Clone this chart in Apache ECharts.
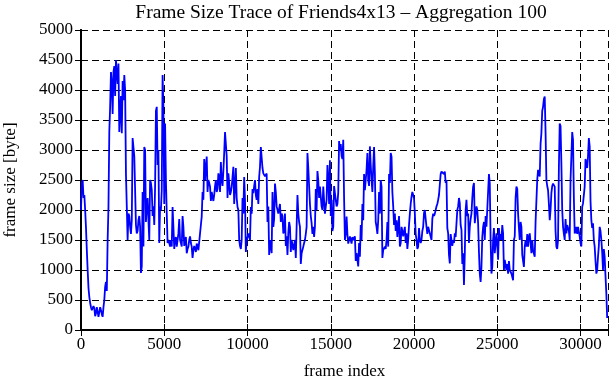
<!DOCTYPE html>
<html>
<head>
<meta charset="utf-8">
<script src="https://cdn.jsdelivr.net/npm/echarts@6/dist/echarts.min.js"></script>
<style>
  html, body { margin: 0; padding: 0; background: #fff; }
  #chart { width: 611px; height: 380px; }
</style>
</head>
<body>
<div id="chart"></div>
<script>
// frame size every 50 frames (trace is the 100-frame aggregate)
var STEP = 50
var sizes = [
  2000,2450,2500,2200,2250,2000,1700,1330,1000,700,550,450,380,330,300,400,360,230,280,380,
  350,220,250,380,330,260,220,380,500,720,800,650,1500,2050,3300,3720,4300,4110,3600,4300,
  4400,3900,4500,4280,4100,4440,3300,3610,3900,3280,4150,3830,4250,4000,2600,2060,1500,1940,1900,1720,
  1600,1830,3200,3170,2900,2330,1750,1610,1650,1830,1900,1720,950,1060,2300,1390,3050,3000,1800,2060,
  2200,1830,1500,2500,2450,2330,1900,2060,1750,2390,3650,3720,2750,3000,1450,2060,2000,2330,4250,3720,
  2100,3440,2500,1940,1450,1500,1450,1390,1500,1390,2050,1720,1350,1500,1550,1390,1400,1610,1850,1500,
  1450,1390,1900,1720,1400,1500,1550,1280,1350,1390,1500,1560,1450,1390,1200,1330,1400,1390,1300,1440,
  1400,1330,1350,1610,1750,1890,2300,2170,2850,2500,2700,2890,2300,2500,2450,2390,2150,2300,
  2300,2150,2250,2400,2500,2300,2350,2610,2550,2300,2800,2500,2400,2650,2950,3300,3300,2900,2200,2610,
  2450,2250,2300,2390,2550,2720,2100,2400,2700,2200,2050,2000,1500,1400,1350,1500,2200,1940,2550,2170,
  1300,1500,1550,1610,1600,1500,2050,1940,2350,2280,2400,2500,2250,2170,2350,2100,2550,2720,3050,3080,
  2700,2610,2600,2560,2550,2610,1800,2060,1250,1500,1400,1280,2300,1720,1850,2440,2300,2060,2050,1940,
  1950,2100,1800,1940,1900,1610,1650,1940,1400,1560,1250,1610,1800,1720,1300,1500,1500,1330,1350,1500,
  1200,1220,2250,1940,1800,1720,1100,1280,1300,1390,1450,1500,1600,1720,2950,2700,2400,2100,1900,1780,
  1600,1720,1550,1720,2350,2000,2650,2500,2200,2390,2400,2060,2000,2390,2150,1940,1950,2170,2750,2500,
  2100,2830,1900,2170,1650,1720,2400,2280,2250,2060,2100,2300,3150,3000,3100,2900,2850,3170,
  2200,1500,1600,1890,1600,1440,1450,1560,1500,1440,1550,1500,1500,1560,1150,1280,1250,1060,1450,1220,
  1750,1500,2100,1830,2600,2330,2300,2670,2950,2500,2400,3060,2750,2500,2300,2720,3050,2610,1800,1720,
  1600,1830,2300,1940,2500,2390,1200,1330,1300,1390,1350,1500,1800,1390,2600,2450,2950,2890,2300,2060,
  1750,1940,1650,1830,1550,1720,1900,1390,1450,1720,1650,1560,1550,1720,1450,1610,1350,1500,1750,1940,
  2100,2220,2300,2280,2200,1940,1600,1500,1350,1390,1700,1500,1450,1500,1650,1720,1950,2000,1850,1720,
  1600,1720,1750,1610,1600,1500,1850,1940,1900,1940,2000,2060,2100,2170,2250,2280,2600,2640,2650,2610,
  2600,2640,2450,2500,1700,1610,1250,1110,1600,1500,1400,1500,1450,1610,1550,1560,2000,2060,2200,2110,
  1750,1670,1100,1280,750,1280,2000,2170,1900,1940,1450,1720,1850,1940,2200,2390,2450,1780,1800,2060,
  2000,1780,1300,940,800,1050,1550,1720,1800,1500,1900,1720,1700,1720,2600,2440,1500,940,1050,1500,
  1700,1280,1450,1610,1400,1170,1700,1500,1600,1500,1750,1610,1000,1170,1150,1000,1100,940,1150,1000,
  1000,940,950,830,1500,1560,2200,2390,2350,1940,1700,1500,1800,1720,1250,1220,1050,1390,1500,1390,
  1600,1390,1550,1610,1450,1280,1500,1330,1300,1220,1800,1830,2500,2670,2600,2560,3100,3280,3650,3720,
  3850,3890,3300,2500,2400,2330,2100,1830,2000,2280,2400,2440,2450,2390,1650,1390,1350,1500,2700,3440,
  3400,2780,2000,1720,1600,1500,1850,1610,1750,1720,1650,1500,2500,2890,3300,3170,2200,1610,1650,1720,
  1600,1720,1700,1560,1450,1390,2050,2110,2100,2390,2850,2830,2700,2890,3200,3060,2150,1830,1700,1780,
  1500,1390,1150,940,1000,1220,1400,1720,1650,1500,1300,1000,1350,1220,900,610,200
]
var xMax = 31650
var xTickStep = 5000
var yMax = 5000
var yTickStep = 500

var points = sizes.map(function (v, i) { return [i * STEP, v] })

var font = 'Liberation Serif'
var gridLine = { show: true, lineStyle: { color: '#000', type: [7, 4], width: 1 } }
var border = { show: true, lineStyle: { color: '#000', width: 2 } }
var ticks = { show: true, inside: true, length: 6, lineStyle: { color: '#000', width: 1 } }
var plain = function (v) { return String(v) }

var chart = echarts.init(document.getElementById('chart'))
chart.setOption({
  backgroundColor: '#fff',
  animation: false,
  title: {
    text: 'Frame Size Trace of Friends4x13 \u2013 Aggregation 100',
    left: 336, textAlign: 'center', top: -2,
    textStyle: { fontFamily: font, fontWeight: 'normal', fontSize: 19.5, color: '#000' }
  },
  grid: { left: 81, right: 3, top: 30, bottom: 50, outerBoundsMode: 'none', containLabel: false },
  xAxis: [{
    type: 'value', min: 0, max: xMax, interval: xTickStep,
    name: 'frame index', nameLocation: 'middle', nameGap: 33,
    nameTextStyle: { fontFamily: font, fontSize: 17, color: '#000' },
    axisLine: border, axisTick: ticks, splitLine: gridLine,
    axisLabel: {
      fontFamily: font, fontSize: 17, color: '#000', margin: 6,
      formatter: function (v) { return v % xTickStep === 0 ? String(v) : '' }
    }
  }, {
    type: 'value', min: 0, max: xMax, interval: xTickStep, position: 'top',
    axisLine: border, axisTick: ticks, splitLine: { show: false }, axisLabel: { show: false }
  }],
  yAxis: [{
    type: 'value', min: 0, max: yMax, interval: yTickStep,
    name: 'frame size [byte]', nameLocation: 'middle', nameGap: 62, nameRotate: 90,
    nameTextStyle: { fontFamily: font, fontSize: 17, color: '#000' },
    axisLine: border, axisTick: ticks, splitLine: gridLine,
    axisLabel: { fontFamily: font, fontSize: 17, color: '#000', margin: 8, formatter: plain }
  }, {
    type: 'value', min: 0, max: yMax, interval: yTickStep, position: 'right',
    axisLine: border, axisTick: ticks, splitLine: { show: false }, axisLabel: { show: false }
  }],
  series: [{
    type: 'line',
    data: points,
    showSymbol: false,
    lineStyle: { color: '#0000ff', width: 1.8 },
    z: 5
  }]
})
</script>
</body>
</html>
